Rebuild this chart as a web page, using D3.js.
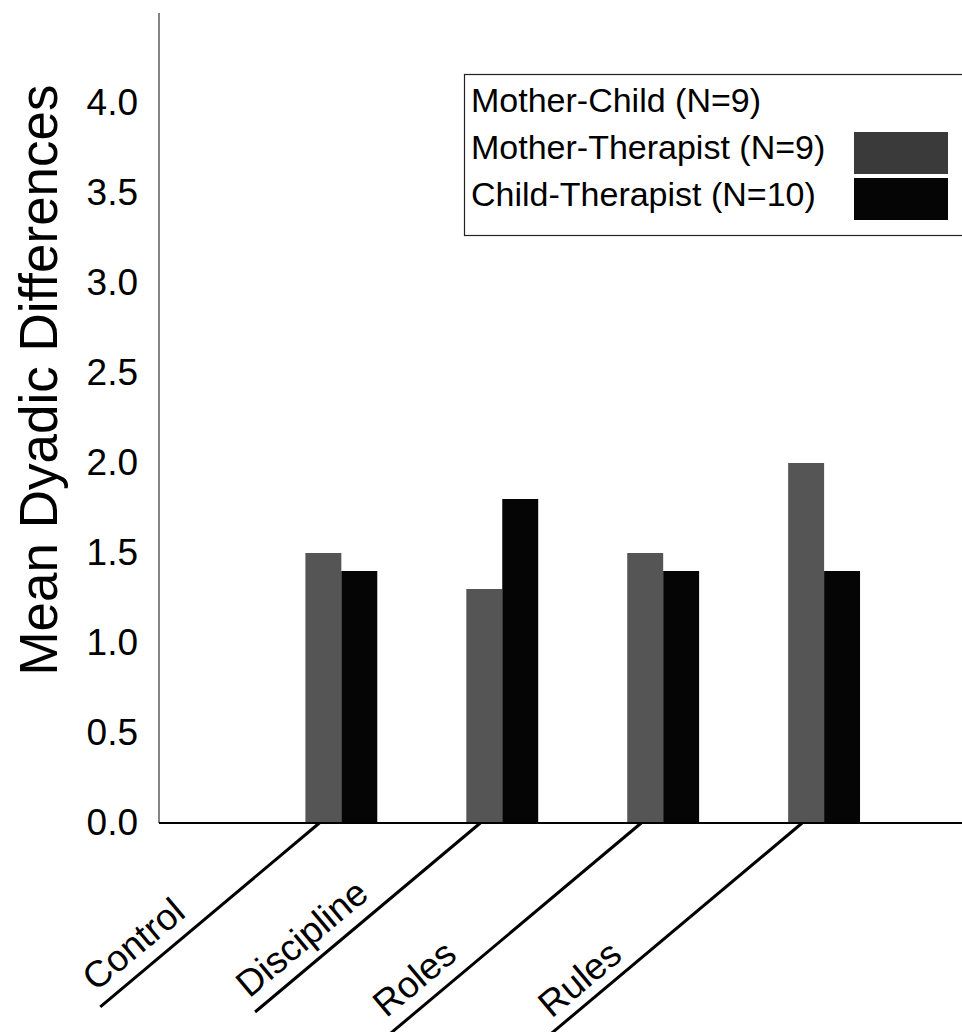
<!DOCTYPE html>
<html>
<head>
<meta charset="utf-8">
<script src="https://cdn.jsdelivr.net/npm/d3@7"></script>
<style>
  html, body { margin: 0; padding: 0; background: #fff; }
  svg { display: block; font-family: "Liberation Sans", Arial, Helvetica, sans-serif; }
</style>
</head>
<body>
<svg id="chart" width="962" height="1032"></svg>
<script>
// ---------- data ----------
const categories = ["Control", "Discipline", "Roles", "Rules"];
const seriesNames = ["Mother-Child (N=9)", "Mother-Therapist (N=9)", "Child-Therapist (N=10)"];
const motherChild = [null, null, null, null];          // no visible bars in the original (white)
const motherTherapist = [1.5, 1.3, 1.5, 2.0];
const childTherapist = [1.4, 1.8, 1.4, 1.4];
const yTicks = [0.0, 0.5, 1.0, 1.5, 2.0, 2.5, 3.0, 3.5, 4.0];
const yTitle = "Mean Dyadic Differences";

// ---------- layout / style (not data) ----------
const seriesColors = ["#ffffff", "#555555", "#050505"];
const L = { axisX: 159, baseY: 823, topY: 13, right: 962 };
const angle = 40 * Math.PI / 180;
const labelLayout = [
  { lineLen: 286, textStart: 280, off: 14 },
  { lineLen: 294, textStart: 290, off: 14 },
  { lineLen: 370, textStart: 321, off: 14 },
  { lineLen: 370, textStart: 318, off: 11 }
];

const svg = d3.select("#chart");

const y = d3.scaleLinear().domain([0, 4.5]).range([L.baseY, L.topY]);
const x = d3.scaleBand().domain(categories).range([L.axisX, L.right])
  .paddingInner(0.33).paddingOuter(0.66).align(0.52);
const xs = d3.scaleBand().domain(seriesNames).range([0, x.bandwidth()]).padding(0);

const seriesValues = [motherChild, motherTherapist, childTherapist];
const rows = [];
categories.forEach((c, i) => {
  seriesNames.forEach((s, j) => {
    const v = seriesValues[j][i];
    if (v != null) rows.push({ cat: c, series: s, j, v });
  });
});

// bars
svg.append("g").selectAll("rect").data(rows).join("rect")
  .attr("x", d => x(d.cat) + xs(d.series))
  .attr("y", d => y(d.v))
  .attr("width", xs.bandwidth())
  .attr("height", d => y(0) - y(d.v))
  .attr("fill", d => seriesColors[d.j]);

// y axis (line only, no tick marks)
const yAxis = d3.axisLeft(y).tickValues(yTicks).tickFormat(d3.format(".1f")).tickSize(0).tickPadding(21);
const ga = svg.append("g").attr("transform", `translate(${L.axisX},0)`).call(yAxis);
ga.select(".domain").remove();
ga.selectAll("text").attr("font-size", 37).attr("fill", "#000")
  .attr("font-family", "'Liberation Sans', Arial, sans-serif");

svg.append("line")
  .attr("x1", L.axisX).attr("x2", L.axisX)
  .attr("y1", L.topY).attr("y2", L.baseY)
  .attr("stroke", "#333").attr("stroke-width", 1.2);

// baseline
svg.append("line")
  .attr("x1", L.axisX).attr("x2", L.right)
  .attr("y1", L.baseY).attr("y2", L.baseY)
  .attr("stroke", "#000").attr("stroke-width", 2);

// y title
svg.append("text")
  .attr("transform", `translate(57,380) rotate(-90)`)
  .attr("text-anchor", "middle")
  .attr("font-size", 53)
  .attr("fill", "#000")
  .text(yTitle);

// category labels with slanted leader lines
const cosA = Math.cos(angle), sinA = Math.sin(angle);
const gl = svg.append("g");
categories.forEach((c, i) => {
  const cx = x(c) + x.bandwidth() / 2 - 4;
  const lay = labelLayout[i];
  gl.append("line")
    .attr("x1", cx).attr("y1", L.baseY)
    .attr("x2", cx - lay.lineLen * cosA).attr("y2", L.baseY + lay.lineLen * sinA)
    .attr("stroke", "#000").attr("stroke-width", 3);
  const tx = cx - lay.textStart * cosA - lay.off * sinA;
  const ty = L.baseY + lay.textStart * sinA - lay.off * cosA;
  gl.append("text")
    .attr("transform", `translate(${tx},${ty}) rotate(-40)`)
    .attr("font-size", 37)
    .attr("fill", "#000")
    .text(c);
});

// legend
const lg = svg.append("g");
lg.append("rect")
  .attr("x", 464.5).attr("y", 74.5).attr("width", 520).attr("height", 161)
  .attr("fill", "#fff").attr("stroke", "#222").attr("stroke-width", 1.2);
const legRows = [112, 159, 206];
const swatchY = [null, 132, 178];
seriesNames.forEach((s, j) => {
  lg.append("text").attr("x", 471).attr("y", legRows[j])
    .attr("font-size", 34).attr("fill", "#000").text(s);
  if (swatchY[j] != null) {
    lg.append("rect")
      .attr("x", 854).attr("y", swatchY[j]).attr("width", 94).attr("height", 42)
      .attr("fill", j === 1 ? "#3a3a3a" : seriesColors[j]);
  }
});
</script>
</body>
</html>
